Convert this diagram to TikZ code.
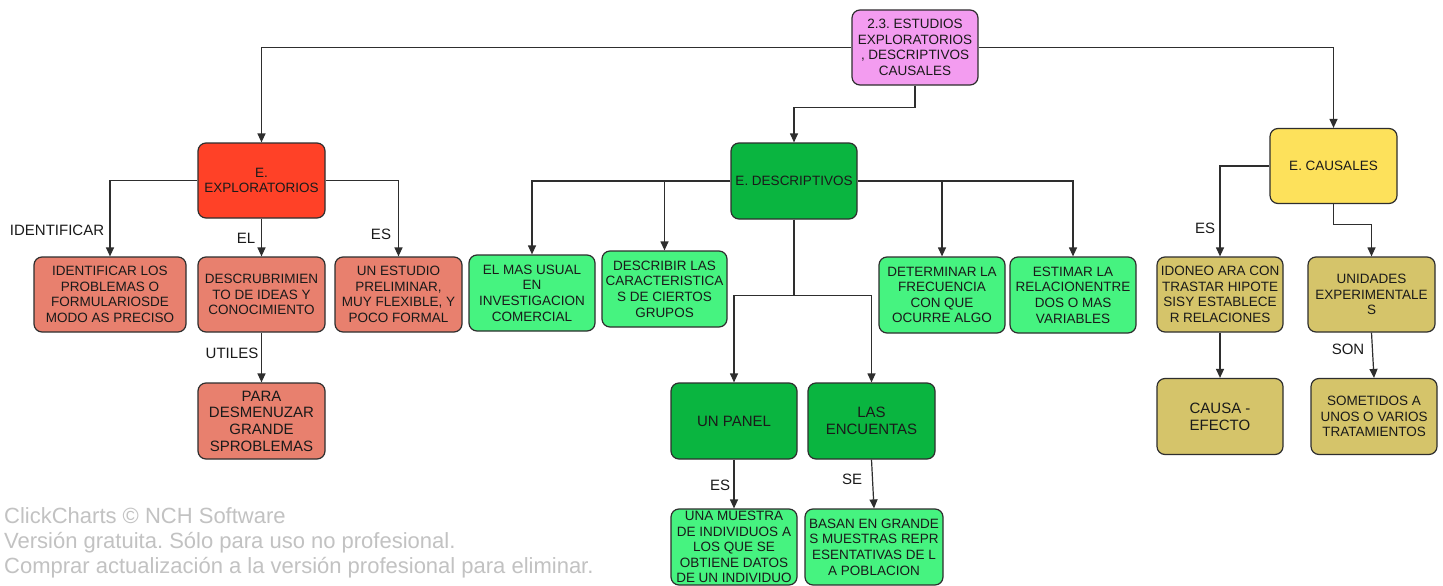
\documentclass[tikz,border=0pt]{standalone}
\usepackage{fontspec}
\setmainfont{Liberation Sans}
\usetikzlibrary{arrows.meta}
\definecolor{cRoot}{HTML}{F39CF0}
\definecolor{cExp}{HTML}{FF4127}
\definecolor{cSalmon}{HTML}{E8806E}
\definecolor{cDark}{HTML}{0AB540}
\definecolor{cLight}{HTML}{46F380}
\definecolor{cYellow}{HTML}{FDE15B}
\definecolor{cKhaki}{HTML}{D5C46A}
\definecolor{cText}{HTML}{1A1A1A}
\definecolor{cLine}{HTML}{2E2E2E}
\definecolor{cWater}{HTML}{C2C2C2}
\frenchspacing
\begin{document}
\begin{tikzpicture}[x=1pt,y=-1pt,
  box/.style={draw=cLine, line width=1.2pt, rounded corners=8pt, align=center, inner sep=0pt,
    text=cText, font=\fontsize{13.5}{15.6}\selectfont},
  big/.style={font=\fontsize{15}{16.7}\selectfont},
  arr/.style={draw=cLine, line width=1.2pt, -{Triangle[length=9pt,width=8pt]}},
  lab/.style={text=cText, inner sep=0pt, font=\fontsize{15}{17}\selectfont},
  water/.style={text=cWater, inner sep=0pt, anchor=base west, font=\fontsize{22}{24}\selectfont}]
\useasboundingbox (0,0) rectangle (1443,586);
\fill[white] (0,0) rectangle (1443,586);
% nodes
\node[box, fill=cRoot, minimum width=126pt, minimum height=75pt] (root) at (915,47.5) {2.3. ESTUDIOS\\EXPLORATORIOS\\, DESCRIPTIVOS\\CAUSALES};
\node[box, fill=cExp, minimum width=127pt, minimum height=75pt] (exp) at (261.5,180.5) {E.\\EXPLORATORIOS};
\node[box, fill=cSalmon, minimum width=152pt, minimum height=75pt] (i1) at (110,294.5) {IDENTIFICAR LOS\\PROBLEMAS O\\FORMULARIOSDE\\MODO AS PRECISO};
\node[box, fill=cSalmon, minimum width=127pt, minimum height=75pt] (i2) at (261.5,294.5) {DESCRUBRIMIEN\\TO DE IDEAS Y\\CONOCIMIENTO};
\node[box, fill=cSalmon, minimum width=127pt, minimum height=75pt] (i3) at (398.5,294.5) {UN ESTUDIO\\PRELIMINAR,\\MUY FLEXIBLE, Y\\POCO FORMAL};
\node[box, big, fill=cSalmon, minimum width=127pt, minimum height=76pt] (i4) at (261.5,421) {PARA\\DESMENUZAR\\GRANDE\\SPROBLEMAS};
\node[box, fill=cDark, minimum width=126pt, minimum height=76pt] (desc) at (794,181) {E. DESCRIPTIVOS};
\node[box, fill=cLight, minimum width=126pt, minimum height=76pt] (d1) at (532,293) {EL MAS USUAL\\EN\\INVESTIGACION\\COMERCIAL};
\node[box, fill=cLight, minimum width=125pt, minimum height=76pt] (d2) at (664.5,289) {DESCRIBIR LAS\\CARACTERISTICA\\S DE CIERTOS\\GRUPOS};
\node[box, fill=cLight, minimum width=126pt, minimum height=76pt] (d3) at (942,295) {DETERMINAR LA\\FRECUENCIA\\CON QUE\\OCURRE ALGO};
\node[box, fill=cLight, minimum width=126pt, minimum height=76pt] (d4) at (1073,295) {ESTIMAR LA\\RELACIONENTRE\\DOS O MAS\\VARIABLES};
\node[box, big, fill=cDark, minimum width=126pt, minimum height=76pt] (p1) at (734,421) {UN PANEL};
\node[box, big, fill=cDark, minimum width=127pt, minimum height=76pt] (p2) at (871.5,421) {LAS\\ENCUENTAS};
\node[box, fill=cLight, minimum width=126pt, minimum height=76pt] (m1) at (734,547) {UNA MUESTRA\\DE INDIVIDUOS A\\LOS QUE SE\\OBTIENE DATOS\\DE UN INDIVIDUO};
\node[box, fill=cLight, minimum width=138pt, minimum height=76pt] (m2) at (874,547) {BASAN EN GRANDE\\S MUESTRAS REPR\\ESENTATIVAS DE L\\A POBLACION};
\node[box, fill=cYellow, minimum width=127pt, minimum height=75pt] (cau) at (1333.5,166) {E. CAUSALES};
\node[box, fill=cKhaki, minimum width=126pt, minimum height=75pt] (c1) at (1220,294.5) {IDONEO ARA CON\\TRASTAR HIPOTE\\SISY ESTABLECE\\R RELACIONES};
\node[box, fill=cKhaki, minimum width=127pt, minimum height=75pt] (c2) at (1371.5,294.5) {UNIDADES\\EXPERIMENTALE\\S};
\node[box, big, fill=cKhaki, minimum width=126pt, minimum height=76pt] (c3) at (1220,416.5) {CAUSA -\\EFECTO};
\node[box, fill=cKhaki, minimum width=126pt, minimum height=76pt] (c4) at (1374,416.5) {SOMETIDOS A\\UNOS O VARIOS\\TRATAMIENTOS};
% connectors
\draw[arr] (root.west) -| (exp.north);
\draw[arr] (root.east) -| (cau.north);
\draw[arr] (root.south) -- ++(0,22) -| (desc.north);
\draw[arr] (exp.west) -| (i1.north);
\draw[arr] (exp.south) -- (i2.north);
\draw[arr] (exp.east) -| (i3.north);
\draw[arr] (i2.south) -- (i4.north);
\draw[arr] (desc.west) -| (d1.north);
\draw[arr] (desc.west) -| (d2.north);
\draw[arr] (desc.east) -| (d3.north);
\draw[arr] (desc.east) -| (d4.north);
\draw[arr] (desc.south) -- ++(0,76) -| (p1.north);
\draw[arr] (desc.south) -- ++(0,76) -| (p2.north);
\draw[arr] (p1.south) -- (m1.north);
\draw[arr] (p2.south) -- (m2.north);
\draw[arr] (cau.west) -| (c1.north);
\draw[arr] (cau.south) -- ++(0,20) -| (c2.north);
\draw[arr] (c1.south) -- (c3.north);
\draw[arr] (c2.south) -- (c4.north);
% labels
\node[lab] (l1) at (57,230) {IDENTIFICAR};
\node[lab] (l2) at (246,238) {EL};
\node[lab] (l3) at (381,234) {ES};
\node[lab] (l4) at (232,353) {UTILES};
\node[lab] (l5) at (720,485) {ES};
\node[lab] (l6) at (852,479) {SE};
\node[lab] (l7) at (1205,228) {ES};
\node[lab] (l8) at (1348,349) {SON};
% watermark
\node[water] (w1) at (4,523) {ClickCharts © NCH Software};
\node[water] (w2) at (4,548) {Versión gratuita. Sólo para uso no profesional.};
\node[water] (w3) at (4,573) {Comprar actualización a la versión profesional para eliminar.};
\end{tikzpicture}
\end{document}
